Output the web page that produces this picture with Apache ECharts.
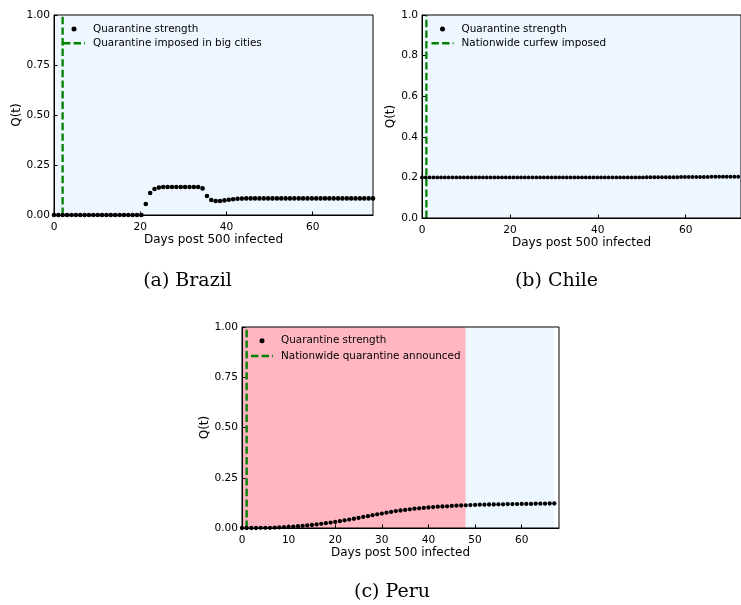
<!DOCTYPE html>
<html>
<head>
<meta charset="utf-8">
<script src="https://cdn.jsdelivr.net/npm/echarts@6/dist/echarts.min.js"></script>
<style>
html,body{margin:0;padding:0;background:#fff;}
#chart{width:741px;height:605px;}
</style>
</head>
<body>
<div id="chart"></div>
<script>
// ---- Data ----
// Brazil: one sample per step, starting at day 0
const brazilStep = 74 / 73;
const brazilQ = [
  0,0,0,0,0,0,0,0,0,0,0,0,0,0,0,0,0,0,0,0,0,
  0.055,0.11,0.13,0.137,
  0.14,0.14,0.14,0.14,0.14,0.14,0.14,0.14,0.14,
  0.133,0.095,0.075,0.07,0.07,0.073,0.076,0.079,0.081,0.082,
  0.083,0.083,0.083,0.083,0.083,0.083,0.083,0.083,0.083,0.083,
  0.083,0.083,0.083,0.083,0.083,0.083,0.083,0.083,0.083,0.083,
  0.083,0.083,0.083,0.083,0.083,0.083,0.083,0.083,0.083,0.083
];
// Chile
const chileStep = 0.867;
const chileQ = [
  0.2,0.2,0.2,0.2,0.2,0.2,0.2,0.2,0.2,0.2,
  0.2,0.2,0.2,0.2,0.2,0.2,0.2,0.2,0.2,0.2,
  0.2,0.2,0.2,0.2,0.2,0.2,0.2,0.2,0.2,0.2,
  0.2,0.2,0.2,0.2,0.2,0.2,0.2,0.2,0.2,0.2,
  0.2,0.2,0.2,0.2,0.2,0.2,0.2,0.2,0.2,0.2,
  0.2,0.2,0.2,0.2,0.2,0.2,0.2,0.2,0.2,0.201,
  0.201,0.201,0.201,0.201,0.201,0.201,0.201,0.201,0.202,0.202,
  0.202,0.202,0.202,0.202,0.202,0.202,0.203,0.203,0.203,0.203,
  0.203,0.203,0.203,0.203
];
// Peru: one sample per day
const peruStep = 1;
const peruQ = [
  0,0,0,0,0.001,0.001,0.001,0.002,0.003,0.004,
  0.005,0.007,0.009,0.011,0.013,0.015,0.018,0.021,0.024,0.027,
  0.030,0.034,0.038,0.042,0.046,0.050,0.055,0.059,0.064,0.068,
  0.072,0.076,0.080,0.084,0.087,0.090,0.093,0.096,0.098,0.100,
  0.102,0.104,0.106,0.107,0.108,0.110,0.111,0.112,0.113,0.114,
  0.115,0.116,0.116,0.117,0.117,0.118,0.118,0.119,0.119,0.119,
  0.120,0.120,0.120,0.121,0.121,0.121,0.122,0.122
];
// Event days (vertical dashed lines)
const brazilEventDay = 2;
const chileEventDay = 1;
const peruEventDay = 1;
// Shaded regions [start, end, color]
const brazilRegions = [[0, 74, '#EEF6FF']];
const chileRegions = [[0, 72.6, '#EEF6FF']];
const peruRegions = [[0, 48, '#FFB6C1'], [48, 67, '#EEF6FF']];
// Labels
const seriesName = 'Quarantine strength';
const brazilEvent = 'Quarantine imposed in big cities';
const chileEvent = 'Nationwide curfew imposed';
const peruEvent = 'Nationwide quarantine announced';
const captions = ['(a) Brazil', '(b) Chile', '(c) Peru'];
const xName = 'Days post 500 infected';
const yName = 'Q(t)';

// ---- Chart ----
const FONT = 'DejaVu Sans';
const dashIcon = 'path://M0,0h7.4v2.4h-7.4zM10.6,0h7.4v2.4h-7.4zM21.2,0h0.8v2.4h-0.8z';

function xAxis(gi, max, interval) {
  return {
    type: 'value', gridIndex: gi, min: 0, max: max, interval: interval,
    name: xName, nameLocation: 'middle', nameGap: 19,
    nameTextStyle: {fontSize: 12, fontFamily: FONT, color: '#000'},
    axisLine: {show: true, onZero: false, lineStyle: {color: '#000', width: 1}},
    axisTick: {show: true, inside: true, length: 3.5, lineStyle: {color: '#000'}},
    axisLabel: {margin: 7, fontSize: 10.6, fontFamily: FONT, color: '#000', showMaxLabel: false},
    splitLine: {show: false}, z: 5
  };
}
function yAxis(gi, interval, digits, gap) {
  return {
    type: 'value', gridIndex: gi, min: 0, max: 1, interval: interval,
    name: yName, nameLocation: 'middle', nameGap: gap, nameRotate: 90,
    nameTextStyle: {fontSize: 12, fontFamily: FONT, color: '#000'},
    axisLine: {show: true, onZero: false, lineStyle: {color: '#000', width: 1}},
    axisTick: {show: true, inside: true, length: 3.5, lineStyle: {color: '#000'}},
    axisLabel: {margin: 4, fontSize: 10.6, fontFamily: FONT, color: '#000',
      formatter: v => v.toFixed(digits)},
    splitLine: {show: false}, z: 5
  };
}
function scatter(gi, values, step, size, regions) {
  return {
    type: 'scatter', name: seriesName, xAxisIndex: gi, yAxisIndex: gi,
    data: values.map((q, i) => [i * step, q]),
    symbol: 'circle', symbolSize: size, z: 3,
    itemStyle: {color: '#000', opacity: 1},
    markArea: {
      silent: true,
      data: regions.map(r => [{xAxis: r[0], itemStyle: {color: r[2], opacity: 1}}, {xAxis: r[1]}])
    }
  };
}
function vline(gi, name, day) {
  return {
    type: 'line', name: name, xAxisIndex: gi, yAxisIndex: gi,
    data: [[day, 0], [day, 1]], symbol: 'none', z: 2,
    lineStyle: {color: '#008000', width: 2.3, type: [7.4, 3.2]},
    itemStyle: {color: '#008000'}
  };
}
function legend(left, top, gap, eventName) {
  return {
    orient: 'vertical', left: left, top: top, padding: 0,
    itemWidth: 22, itemHeight: 5, itemGap: gap, selectedMode: false,
    textStyle: {fontSize: 10.4, fontFamily: FONT, color: '#000', lineHeight: 12, padding: [0, 0, 0, 3]},
    data: [
      {name: seriesName, icon: 'circle', itemStyle: {color: '#000', borderWidth: 0}},
      {name: eventName, icon: dashIcon, itemStyle: {color: '#008000', borderWidth: 0}}
    ]
  };
}
function caption(text, x, y) {
  return {
    type: 'text', x: x, y: y, silent: true,
    style: {text: text, textAlign: 'center', textVerticalAlign: 'middle',
      fontFamily: 'DejaVu Serif', fontSize: 19, fill: '#000'}
  };
}

const chart = echarts.init(document.getElementById('chart'), null, {renderer: 'canvas'});
chart.setOption({
  animation: false,
  backgroundColor: '#fff',
  grid: [
    {left: 54, top: 15, width: 319, height: 200, show: true, borderColor: '#000', borderWidth: 1, backgroundColor: 'transparent', z: 6},
    {left: 422, top: 15, width: 324, height: 203, show: true, borderColor: '#000', borderWidth: 1, backgroundColor: 'transparent', z: 6},
    {left: 242, top: 327, width: 317, height: 201, show: true, borderColor: '#000', borderWidth: 1, backgroundColor: 'transparent', z: 6}
  ],
  xAxis: [xAxis(0, 74, 20), xAxis(1, 72.6, 20), xAxis(2, 68, 10)],
  yAxis: [yAxis(0, 0.25, 2, 26), yAxis(1, 0.2, 1, 23), yAxis(2, 0.25, 2, 30)],
  legend: [
    legend(63, 23, 2.3, brazilEvent),
    legend(431.5, 23, 2.3, chileEvent),
    legend(251, 334.7, 3.3, peruEvent)
  ],
  series: [
    scatter(0, brazilQ, brazilStep, 4.6, brazilRegions),
    vline(0, brazilEvent, brazilEventDay),
    scatter(1, chileQ, chileStep, 3.9, chileRegions),
    vline(1, chileEvent, chileEventDay),
    scatter(2, peruQ, peruStep, 4.3, peruRegions),
    vline(2, peruEvent, peruEventDay)
  ],
  graphic: [
    caption(captions[0], 187.5, 281),
    caption(captions[1], 556.5, 281),
    caption(captions[2], 392, 592)
  ]
});
</script>
</body>
</html>
